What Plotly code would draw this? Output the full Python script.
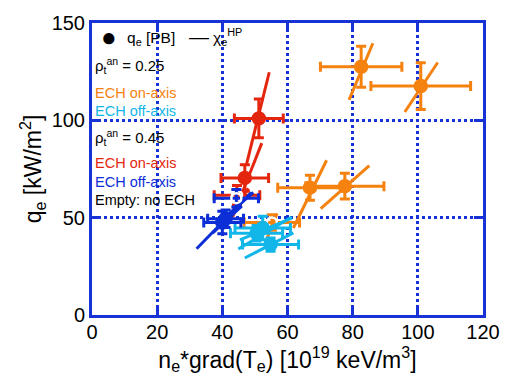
import plotly.graph_objects as go

# ---------------- data ----------------
# rho_t^an = 0.25, ECH on-axis (orange, filled)
or_x = [82.6, 100.9, 66.9, 77.6]
or_y = [127.5, 117.6, 65.4, 66.2]
or_xerr = [12.5, 15.3, 9.9, 12.0]
or_yerr = [10.5, 12.0, 6.4, 6.6]
or_lx0 = [78.9, 96.0, 61.8, 70.2]
or_ly0 = [110.5, 104.3, 44.7, 54.6]
or_lx1 = [86.2, 106.1, 72.0, 85.1]
or_ly1 = [139.6, 129.7, 79.5, 76.7]

# rho_t^an = 0.25, no ECH (orange, empty)
oo_x = [55.2]
oo_y = [47.5]
oo_xerr = [8.5]
oo_yerr = [4.0]
oo_lx0 = [53.8]
oo_ly0 = [39.7]
oo_lx1 = [56.8]
oo_ly1 = [52.2]

# rho_t^an = 0.25, ECH off-axis (cyan, filled)
cy_x = [52.4, 50.5, 54.8]
cy_y = [44.7, 42.0, 36.2]
cy_xerr = [8.5, 8.0, 8.6]
cy_yerr = [6.0, 4.0, 3.4]
cy_lx0 = [44.9, 45.4, 46.9]
cy_ly0 = [33.9, 38.6, 29.3]
cy_lx1 = [61.3, 61.3, 61.8]
cy_ly1 = [50.3, 49.8, 42.2]

# rho_t^an = 0.45, ECH on-axis (red, filled)
rd_x = [51.2, 46.9]
rd_y = [101.0, 70.4]
rd_xerr = [7.5, 7.3]
rd_yerr = [10.0, 6.8]
rd_lx0 = [47.4, 43.2]
rd_ly0 = [77.3, 50.5]
rd_lx1 = [54.4, 52.1]
rd_ly1 = [124.7, 88.3]

# rho_t^an = 0.45, no ECH (red, empty)
ro_x = [44.5]
ro_y = [61.5]
ro_xerr = [7.0]
ro_yerr = [5.0]
ro_lx0 = [43.0]
ro_ly0 = [53.0]
ro_lx1 = [48.0]
ro_ly1 = [65.0]

# rho_t^an = 0.45, ECH off-axis (blue, filled)
bl_x = [40.0, 41.0]
bl_y = [47.5, 49.5]
bl_xerr = [5.7, 5.5]
bl_yerr = [5.8, 4.5]
bl_lx0 = [32.1, 37.0]
bl_ly0 = [34.0, 42.0]
bl_lx1 = [48.9, 46.0]
bl_ly1 = [62.9, 56.0]

# rho_t^an = 0.45, no ECH (blue, empty)
bo_x = [44.3]
bo_y = [60.0]
bo_xerr = [6.8]
bo_yerr = [4.5]
bo_lx0 = [42.0]
bo_ly0 = [52.0]
bo_lx1 = [49.5]
bo_ly1 = [63.0]

x_ticks = [0, 20, 40, 60, 80, 100, 120]
y_ticks = [0, 50, 100, 150]

# ---------------- styles ----------------
ORANGE = "#F5820F"
CYAN = "#12B6E8"
RED = "#E4260E"
BLUE = "#0C2ED6"
AXBLUE = "#1733D6"
FONT = "Liberation Sans, Arial, sans-serif"

fig = go.Figure()


def seg_xy(x0, y0, x1, y1):
    xs, ys = [], []
    for a, b, c, d in zip(x0, y0, x1, y1):
        xs += [a, c, None]
        ys += [b, d, None]
    return xs, ys


def add_series(x, y, xerr, yerr, lx0, ly0, lx1, ly1, color, empty=False):
    xs, ys = seg_xy(lx0, ly0, lx1, ly1)
    fig.add_trace(go.Scatter(x=xs, y=ys, mode="lines",
                             line=dict(color=color, width=3),
                             showlegend=False, hoverinfo="skip"))
    fig.add_trace(go.Scatter(
        x=x, y=y, mode="markers",
        marker=dict(size=12 if not empty else 10,
                    color="white" if empty else color,
                    symbol="circle-open" if empty else "circle",
                    line=dict(color=color, width=2.5)),
        error_x=dict(type="data", array=xerr, color=color, thickness=3, width=5),
        error_y=dict(type="data", array=yerr, color=color, thickness=3, width=5),
        showlegend=False))


add_series(or_x, or_y, or_xerr, or_yerr, or_lx0, or_ly0, or_lx1, or_ly1, ORANGE)
add_series(oo_x, oo_y, oo_xerr, oo_yerr, oo_lx0, oo_ly0, oo_lx1, oo_ly1, ORANGE, True)
add_series(rd_x, rd_y, rd_xerr, rd_yerr, rd_lx0, rd_ly0, rd_lx1, rd_ly1, RED)
add_series(ro_x, ro_y, ro_xerr, ro_yerr, ro_lx0, ro_ly0, ro_lx1, ro_ly1, RED, True)
add_series(cy_x, cy_y, cy_xerr, cy_yerr, cy_lx0, cy_ly0, cy_lx1, cy_ly1, CYAN)
add_series(bl_x, bl_y, bl_xerr, bl_yerr, bl_lx0, bl_ly0, bl_lx1, bl_ly1, BLUE)
add_series(bo_x, bo_y, bo_xerr, bo_yerr, bo_lx0, bo_ly0, bo_lx1, bo_ly1, BLUE, True)

# ---------------- legend-like text ----------------
L, R, T, B = 92, 15, 13, 61
W, H = 512, 376
pw, ph = W - L - R, H - T - B


def px(xp):
    return (xp - L) / pw


def py(yp):
    return (H - B - yp) / ph


anns = [
    dict(text="●", x=px(99), y=py(27), size=26, color="black"),
    dict(text="q<sub>e</sub> [PB]", x=px(126), y=py(29), size=15.5, color="black"),
    dict(text="—", x=px(190), y=py(27), size=20, color="black"),
    dict(text="χ<sub>e</sub><sup>HP</sup>", x=px(215), y=py(27), size=15.5, color="black"),
    dict(text="ρ<sub>t</sub><sup>an</sup> = 0.25", x=px(93), y=py(57), size=15, color="black"),
    dict(text="ECH on-axis", x=px(93), y=py(85), size=14.5, color=ORANGE),
    dict(text="ECH off-axis", x=px(93), y=py(104), size=14.5, color=CYAN),
    dict(text="ρ<sub>t</sub><sup>an</sup> = 0.45", x=px(93), y=py(131), size=15, color="black"),
    dict(text="ECH on-axis", x=px(93), y=py(158), size=14.5, color=RED),
    dict(text="ECH off-axis", x=px(93), y=py(177), size=14.5, color=BLUE),
    dict(text="Empty: no ECH", x=px(93), y=py(196), size=14.5, color="black"),
]
for a in anns:
    fig.add_annotation(text=a["text"], x=a["x"], y=a["y"], xref="paper", yref="paper",
                       xanchor="left", yanchor="middle", showarrow=False,
                       font=dict(family=FONT, size=a["size"], color=a["color"]))

axis_common = dict(
    showline=True, mirror="ticks", linecolor=AXBLUE, linewidth=3,
    showgrid=True, gridcolor=AXBLUE, gridwidth=3, griddash="3px,3px",
    ticks="inside", ticklen=9, tickwidth=3, tickcolor=AXBLUE,
    zeroline=False, tickfont=dict(family=FONT, size=20, color="black"),
)

fig.update_layout(
    width=W, height=H,
    margin=dict(l=L, r=R, t=T, b=B),
    plot_bgcolor="white", paper_bgcolor="white",
    xaxis=dict(range=[0, 120], tickvals=x_ticks, ticktext=[str(v) for v in x_ticks],
               ticklabeloverflow="allow", ticklabelstandoff=-3,
               title=dict(text="n<sub>e</sub>*grad(T<sub>e</sub>) [10<sup>19</sup> keV/m<sup>3</sup>]",
                          font=dict(family=FONT, size=23, color="black"), standoff=4),
               **axis_common),
    yaxis=dict(range=[0, 150], tickvals=y_ticks, ticktext=[str(v) for v in y_ticks],
               ticklabeloverflow="allow",
               title=dict(text="q<sub>e</sub> [kW/m<sup>2</sup>]",
                          font=dict(family=FONT, size=23, color="black"), standoff=4),
               **axis_common),
    showlegend=False,
)

fig.write_html("out.html")
